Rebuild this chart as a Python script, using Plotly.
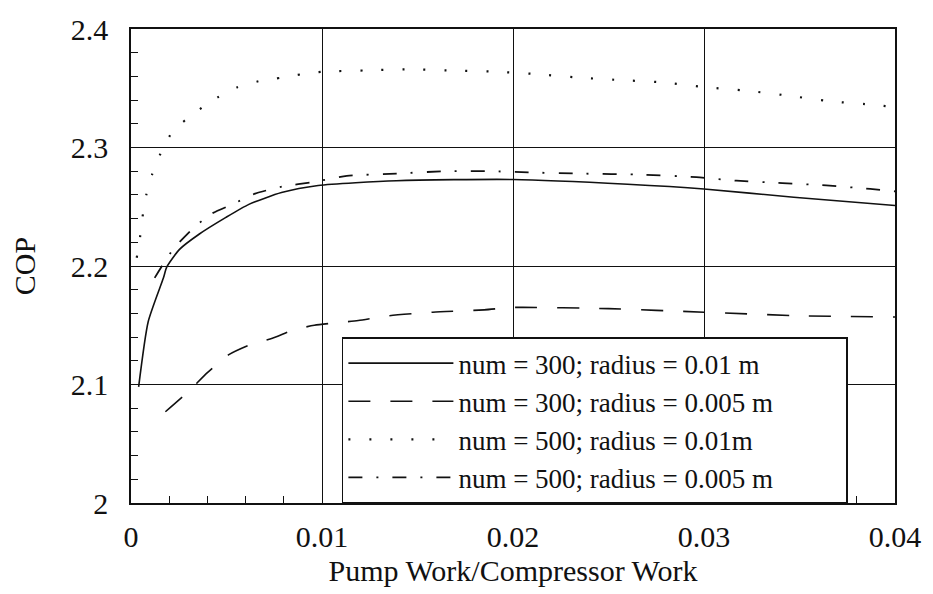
import plotly.graph_objects as go

# num = 300; radius = 0.01 m
x1 = [0.0004, 0.0009, 0.0017, 0.00187, 0.00254, 0.00358, 0.00497, 0.00617, 0.00788, 0.0098,
      0.0139, 0.02, 0.026, 0.03, 0.0347, 0.04]
y1 = [2.098, 2.153, 2.190, 2.199, 2.214, 2.227, 2.241, 2.252, 2.262, 2.268,
      2.272, 2.273, 2.269, 2.265, 2.258, 2.251]

# num = 300; radius = 0.005 m
x2 = [0.0018, 0.003, 0.004, 0.0051, 0.0063, 0.0074, 0.0085, 0.0096, 0.0107, 0.0119,
      0.0135, 0.0158, 0.0185, 0.02, 0.025, 0.03, 0.035, 0.04]
y2 = [2.077, 2.094, 2.110, 2.125, 2.134, 2.139, 2.146, 2.150, 2.152, 2.154,
      2.158, 2.161, 2.163, 2.165, 2.164, 2.161, 2.158, 2.157]

# num = 500; radius = 0.01m
x3 = [0.0003, 0.00047, 0.0006, 0.0008, 0.0011, 0.00155, 0.0022, 0.0034, 0.0045, 0.0056,
      0.0067, 0.0079, 0.009, 0.0101, 0.0122, 0.0145, 0.0167, 0.019, 0.0212, 0.0234,
      0.0255, 0.0278, 0.03, 0.0322, 0.0343, 0.0366, 0.0389, 0.04]
y3 = [2.207, 2.224, 2.241, 2.260, 2.277, 2.295, 2.314, 2.330, 2.342, 2.351,
      2.356, 2.359, 2.362, 2.364, 2.365, 2.366, 2.365, 2.364, 2.362, 2.359,
      2.357, 2.355, 2.351, 2.348, 2.344, 2.339, 2.336, 2.334]

# num = 500; radius = 0.005 m
x4 = [0.00124, 0.0022, 0.0032, 0.0042, 0.0053, 0.0065, 0.0079, 0.0096, 0.0113, 0.0139,
      0.0165, 0.0188, 0.0208, 0.0234, 0.0269, 0.0296, 0.0317, 0.0341, 0.0364, 0.0387, 0.04]
y4 = [2.190, 2.214, 2.231, 2.244, 2.252, 2.261, 2.267, 2.271, 2.276, 2.278,
      2.280, 2.280, 2.279, 2.278, 2.277, 2.275, 2.272, 2.270, 2.268, 2.265, 2.263]

names = ["num = 300; radius = 0.01 m", "num = 300; radius = 0.005 m",
         "num = 500; radius = 0.01m", "num = 500; radius = 0.005 m"]

x_ticks = [0, 0.01, 0.02, 0.03, 0.04]
x_ticklabels = ["0", "0.01", "0.02", "0.03", "0.04"]
y_ticks = [2.0, 2.1, 2.2, 2.3, 2.4]
y_ticklabels = ["2", "2.1", "2.2", "2.3", "2.4"]

FONT = "Liberation Serif"
INK = "#111111"
PAD = "\u00a0" * 10  # right padding inside the legend box

dashes = ["solid", "22px,20px", "2px,19px", "14px,14px,2px,14px"]
widths = [1.6, 1.6, 2.2, 1.8]

fig = go.Figure()
for xs, ys, nm, d, w in zip([x1, x2, x3, x4], [y1, y2, y3, y4], names, dashes, widths):
    fig.add_trace(go.Scatter(x=xs, y=ys, mode="lines", name=nm + PAD,
                             line=dict(color=INK, width=w, dash=d, shape="spline", smoothing=0.6)))

axis_common = dict(
    showline=True, linecolor=INK, linewidth=1.6, mirror=True,
    showgrid=True, gridcolor=INK, gridwidth=1.4,
    ticks="inside", ticklen=0, tickcolor=INK,
    zeroline=False,
    tickfont=dict(family=FONT, size=30, color=INK),
)

fig.update_xaxes(
    **axis_common,
    range=[0, 0.04], tickmode="array", tickvals=x_ticks, ticktext=x_ticklabels,
    minor=dict(ticks="inside", dtick=0.002, ticklen=7, tickcolor=INK, tickwidth=1.4, showgrid=False),
    title=dict(text="Pump Work/Compressor Work", font=dict(family=FONT, size=30, color=INK), standoff=8),
    ticklabelstandoff=6,
)
fig.update_yaxes(
    **axis_common,
    range=[2.0, 2.4], tickmode="array", tickvals=y_ticks, ticktext=y_ticklabels,
    minor=dict(ticks="inside", dtick=0.02, ticklen=7, tickcolor=INK, tickwidth=1.4, showgrid=False),
    title=dict(text="COP", font=dict(family=FONT, size=30, color=INK), standoff=26),
    ticklabelstandoff=15,
)

fig.update_layout(
    width=933, height=594,
    margin=dict(l=131, r=30, t=29, b=84),
    paper_bgcolor="white", plot_bgcolor="white",
    showlegend=True,
    legend=dict(
        x=(344 - 131) / 772, y=(510 - 342) / 481, xanchor="left", yanchor="top",
        bgcolor="white", bordercolor=INK, borderwidth=1.6,
        font=dict(family=FONT, size=27, color=INK),
        itemwidth=105, tracegroupgap=0,
    ),
)

fig.write_html("out.html")
